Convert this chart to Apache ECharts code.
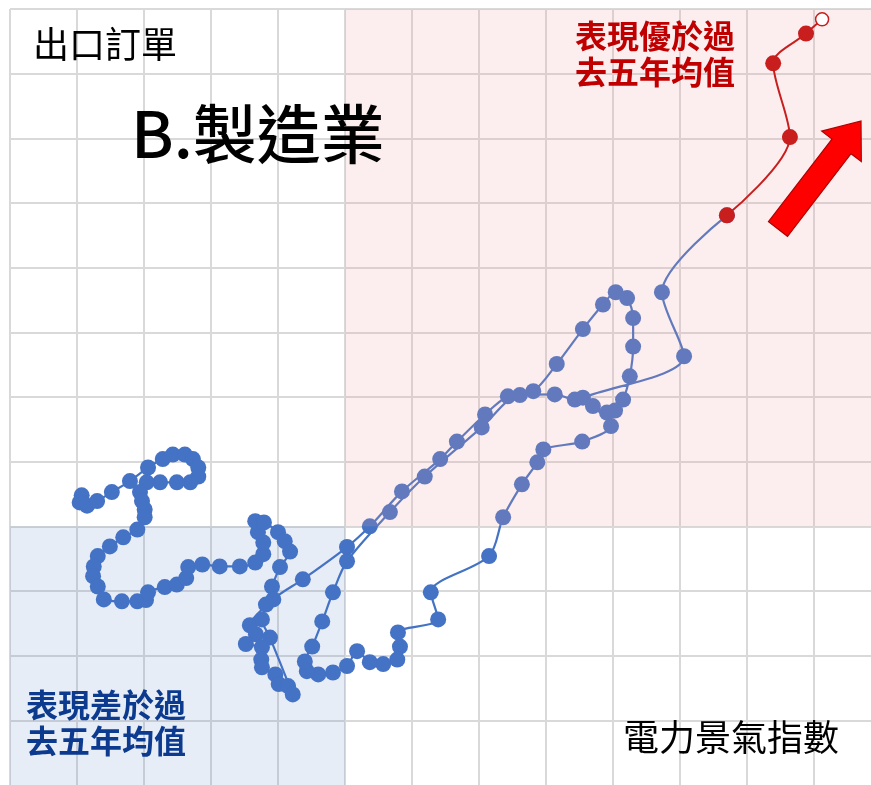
<!DOCTYPE html>
<html>
<head>
<meta charset="utf-8">
<script src="https://cdn.jsdelivr.net/npm/echarts@6/dist/echarts.min.js"></script>
<style>
html,body{margin:0;padding:0;background:#fff;}
#chart{width:871px;height:785px;}
</style>
</head>
<body>
<div id="chart"></div>
<script>
// 電力景氣指數 (x) vs 出口訂單 (y), deviation from 5-year average, in grid units
const powerIndex = [
 -3.93,-3.96,-3.85,-3.70,-3.48,-3.21,-2.94,-2.72,-2.57,-2.39,
 -2.27,-2.19,-2.19,-2.31,-2.51,-2.76,-2.96,-3.06,-3.03,-2.99,
 -2.99,-3.10,-3.31,-3.51,-3.69,-3.75,-3.76,-3.69,-3.60,-3.33,
 -3.10,-2.97,-2.94,-2.69,-2.51,-2.37,-2.34,-2.13,-1.87,-1.57,
 -1.34,-1.22,-1.22,-1.30,-1.34,-1.21,-1.00,-0.90,-0.82,-0.97,
 -1.09,-1.18,-1.42,-1.33,-1.48,-1.24,-1.25,-1.24,-1.04,-0.99,
 -0.85,-0.78,-1.12,-1.24,-1.07,-0.63,0.03,0.37,0.85,1.42,
 1.67,2.09,2.43,2.81,3.16,3.55,3.85,4.04,4.21,4.30,
 4.30,4.25,4.15,4.03,3.91,3.70,3.97,3.54,2.96,2.87,
 2.64,2.36,2.15,1.28,1.39,0.79,0.82,0.78,0.57,0.37,
 0.18,0.03,-0.18,-0.40,-0.57,-0.60,-0.49,-0.34,-0.18,0.03,
 0.67,1.19,2.04,2.61,3.13,3.43,3.55,5.06,4.73,5.70
];
const exportOrders = [
 0.48,0.37,0.32,0.39,0.53,0.70,0.91,1.04,1.11,1.11,
 1.04,0.91,0.77,0.68,0.68,0.68,0.68,0.53,0.39,0.26,
 0.14,-0.05,-0.17,-0.31,-0.46,-0.62,-0.77,-0.93,-1.13,-1.16,
 -1.16,-1.14,-1.02,-0.94,-0.90,-0.80,-0.63,-0.59,-0.62,-0.62,
 -0.56,-0.43,-0.25,-0.09,0.08,0.06,-0.09,-0.23,-0.39,-0.63,
 -0.93,-1.21,-1.53,-1.67,-1.82,-1.87,-2.06,-2.18,-2.29,-2.44,
 -2.47,-2.60,-1.72,-1.44,-1.13,-0.82,-0.32,0.00,0.54,1.04,
 1.31,1.73,2.01,2.09,2.51,3.05,3.43,3.62,3.53,3.22,
 2.78,2.32,1.96,1.79,1.76,1.86,1.55,1.31,1.19,0.99,
 0.65,0.14,-0.46,-1.02,-1.44,-1.64,-1.86,-2.06,-2.13,-2.10,
 -1.93,-2.16,-2.26,-2.29,-2.24,-2.09,-1.86,-1.47,-1.02,-0.54,
 0.22,0.77,1.53,2.03,2.04,1.96,1.99,2.63,3.62,4.81
];
// latest months (better than 5-year average)
const recentPower  = [5.70, 6.64, 6.39, 6.88, 7.12];
const recentOrders = [4.81, 6.02, 7.16, 7.62, 7.84];

const X_MIN = -5, X_MAX = 7.85, Y_MIN = -4, Y_MAX = 8;

const blueData = powerIndex.map((v, i) => [v, exportOrders[i]]);
const redData = recentPower.map((v, i) => {
  const p = { value: [v, recentOrders[i]] };
  if (i === recentPower.length - 1) {
    p.symbolSize = 13;
    p.itemStyle = { color: '#ffffff', borderColor: '#C81E1E', borderWidth: 1.5 };
  }
  return p;
});

const FONT = "'Noto Sans CJK TC','Noto Sans CJK SC',sans-serif";

// arrow geometry (decoration)
function arrowPoints(tx, ty, px, py, shaftHalf, headHalf, headLen) {
  const dx = px - tx, dy = py - ty, L = Math.hypot(dx, dy);
  const ux = dx / L, uy = dy / L, nx = -uy, ny = ux;
  const hx = px - headLen * ux, hy = py - headLen * uy;
  return [
    [tx - shaftHalf * nx, ty - shaftHalf * ny],
    [hx - shaftHalf * nx, hy - shaftHalf * ny],
    [hx - headHalf * nx, hy - headHalf * ny],
    [px, py],
    [hx + headHalf * nx, hy + headHalf * ny],
    [hx + shaftHalf * nx, hy + shaftHalf * ny],
    [tx + shaftHalf * nx, ty + shaftHalf * ny]
  ];
}

const chart = echarts.init(document.getElementById('chart'), null, { renderer: 'canvas' });
chart.setOption({
  animation: false,
  backgroundColor: '#ffffff',
  grid: { left: 10, top: 9, right: 0, bottom: 0, containLabel: false },
  xAxis: {
    type: 'value', min: X_MIN, max: X_MAX, interval: 1,
    axisLabel: { show: false }, axisTick: { show: false }, axisLine: { show: false },
    splitLine: { show: true, showMaxLine: false, lineStyle: { color: '#d9d9d9', width: 2 } }
  },
  yAxis: {
    type: 'value', min: Y_MIN, max: Y_MAX, interval: 1,
    axisLabel: { show: false }, axisTick: { show: false }, axisLine: { show: false },
    splitLine: { show: true, showMinLine: false, lineStyle: { color: '#d9d9d9', width: 2 } }
  },
  series: [
    {
      type: 'line', data: [], z: 1, silent: true,
      markArea: {
        silent: true, z: 1,
        itemStyle: { color: 'rgba(68,114,196,0.13)' },
        data: [[{ coord: [X_MIN, Y_MIN] }, { coord: [0, 0] }]]
      }
    },
    {
      type: 'line', data: blueData, z: 2, smooth: 0.3,
      symbol: 'circle', symbolSize: 16, showAllSymbol: true,
      itemStyle: { color: '#4472C4' },
      lineStyle: { color: '#4472C4', width: 2.2 }
    },
    {
      type: 'line', data: [], z: 3, silent: true,
      markArea: {
        silent: true, z: 3,
        itemStyle: { color: 'rgba(240,160,160,0.18)' },
        data: [[{ coord: [0, 0] }, { coord: [X_MAX, Y_MAX] }]]
      }
    },
    {
      type: 'line', data: redData, z: 4, smooth: 0.3,
      symbol: 'circle', symbolSize: 16, showAllSymbol: true,
      itemStyle: { color: '#C81E1E' },
      lineStyle: { color: '#C81E1E', width: 2 }
    }
  ],
  graphic: [
    { type: 'text', left: 33, top: 26, z: 10,
      style: { text: '出口訂單', font: '36px ' + FONT, fill: '#000' } },
    { type: 'text', left: 131, top: 102, z: 10,
      style: { text: 'B.製造業', font: '500 64px ' + FONT, fill: '#000' } },
    { type: 'text', left: 575, top: 18, z: 10,
      style: { text: '表現優於過\n去五年均值', font: 'bold 32px ' + FONT, lineHeight: 36, fill: '#C00000' } },
    { type: 'text', left: 26, top: 687, z: 10,
      style: { text: '表現差於過\n去五年均值', font: 'bold 32px ' + FONT, lineHeight: 36, fill: '#0B3A8E' } },
    { type: 'text', left: 623, top: 719, z: 10,
      style: { text: '電力景氣指數', font: '36px ' + FONT, fill: '#000' } },
    { type: 'polygon', z: 10,
      shape: { points: arrowPoints(778, 229, 861, 121, 12, 25, 32) },
      style: { fill: '#FF0000', stroke: '#B00000', lineWidth: 1.2 } }
  ]
});
</script>
</body>
</html>
